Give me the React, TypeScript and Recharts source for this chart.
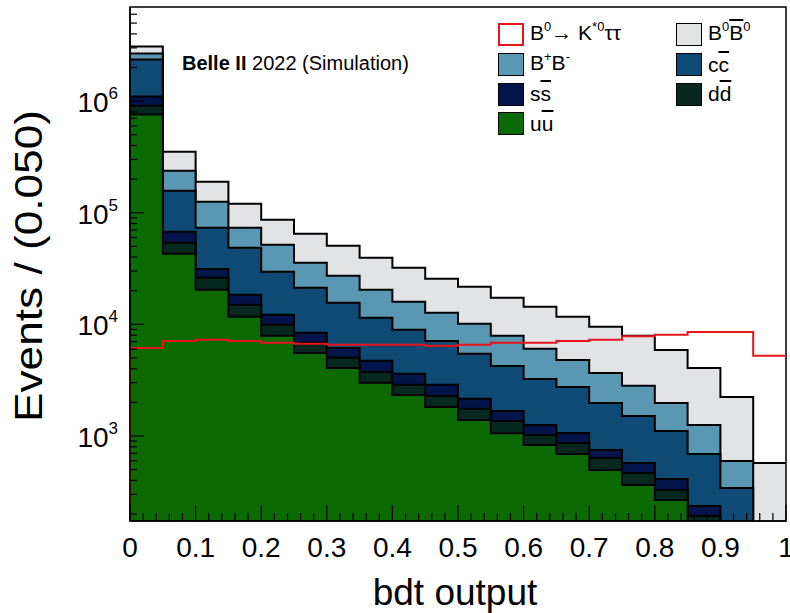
import React from 'react';
import { ComposedChart, Area, Line, XAxis, YAxis, ReferenceArea, ReferenceLine, Legend, Label } from 'recharts';

// lower bin edges of the bdt output histogram (bin width 0.05)
const binLow = [0, 0.05, 0.1, 0.15, 0.2, 0.25, 0.3, 0.35, 0.4, 0.45, 0.5, 0.55, 0.6, 0.65, 0.7, 0.75, 0.8, 0.85, 0.9, 0.95];
const binHigh = 1;

// events per bin for each sample
const uu = [757000, 42900, 20400, 11700, 7890, 5550, 4070, 2990, 2330, 1820, 1390, 1060, 830, 690, 495, 363, 267, 150, 70, 20];
const dd = [154000, 10900, 5700, 3300, 2010, 1280, 940, 760, 540, 460, 360, 300, 191, 175, 140, 103, 61, 42, 20, 5];
const ss = [187000, 13700, 5300, 3400, 2270, 1560, 1140, 960, 730, 590, 400, 310, 234, 199, 114, 107, 83, 44, 30, 10];
const cc = [1259000, 90000, 41900, 30200, 17400, 12870, 9440, 6730, 5330, 4240, 3290, 2570, 1990, 1688, 1228, 939, 698, 454, 222, 60];
const bpbm = [310000, 80600, 52100, 24900, 22100, 14360, 11640, 8950, 6980, 5570, 4660, 3650, 2785, 2048, 1696, 1298, 868, 565, 255, 40];
const b0b0 = [416000, 114400, 64200, 47000, 34900, 29200, 23370, 19100, 16200, 12910, 11600, 9400, 8320, 6880, 5827, 5080, 3928, 2815, 1641, 438];
const signal = [6150, 7110, 7260, 7110, 6830, 6690, 6550, 6550, 6550, 6420, 6550, 6830, 6830, 7110, 7260, 7810, 8050, 8560, 8560, 5220];

const xMajor = [0, 0.1, 0.2, 0.3, 0.4, 0.5, 0.6, 0.7, 0.8, 0.9, 1];
const xLabels = ['0', '0.1', '0.2', '0.3', '0.4', '0.5', '0.6', '0.7', '0.8', '0.9', '1'];
const yMin = 173;
const yMax = 6.97e6;
const decades = [100, 1000, 10000, 100000, 1000000];

const COLORS = {
  b0b0: '#e2e3e4',
  bpbm: '#5a97b3',
  cc: '#0f4a74',
  ss: '#03144a',
  dd: '#06281f',
  uu: '#0c6a04',
  sig: '#e8141c',
};
const FONT = '"Liberation Sans", Arial, Helvetica, sans-serif';

// stack the samples bottom-up: uu, dd, ss, cc, B+B-, B0B0
const stackOrder: Array<[string, number[]]> = [['uu', uu], ['dd', dd], ['ss', ss], ['cc', cc], ['bpbm', bpbm], ['b0b0', b0b0]];

function buildRows() {
  const rows = binLow.map((x, i) => {
    const row: any = { x, sig: signal[i] };
    let sum = 0;
    stackOrder.forEach(([key, vals]) => {
      sum += vals[i];
      row['s_' + key] = sum;
    });
    return row;
  });
  // closing edge so the last step reaches x = 1
  rows.push({ ...rows[rows.length - 1], x: binHigh });
  return rows;
}
const rows = buildRows();

const xTicks: number[] = [];
xMajor.forEach((v, i) => {
  xTicks.push(v);
  if (i < xMajor.length - 1) {
    for (let k = 1; k < 5; k++) xTicks.push(Number((v + k * 0.02).toFixed(2)));
  }
});

const yTicks: number[] = [];
decades.forEach((d) => {
  for (let m = 1; m < 10; m++) {
    const v = m * d;
    if (v >= yMin && v <= yMax) yTicks.push(v);
  }
});

const XTick = (props: any) => {
  const { x, y, payload } = props;
  const idx = xMajor.findIndex((m) => Math.abs(m - payload.value) < 1e-6);
  const major = idx >= 0;
  return (
    <g>
      <line x1={x} x2={x} y1={y} y2={y - (major ? 16 : 8)} stroke="#000" strokeWidth={1.2} />
      {major && (
        <text x={x} y={y + 36} textAnchor="middle" fontSize={28} fontFamily={FONT} fill="#000">
          {xLabels[idx]}
        </text>
      )}
    </g>
  );
};

const YTick = (props: any) => {
  const { x, y, payload } = props;
  const lg = Math.log10(payload.value);
  const exp = Math.round(lg);
  const major = Math.abs(lg - exp) < 1e-6;
  return (
    <g>
      <line x1={x} x2={x + (major ? 14 : 7)} y1={y} y2={y} stroke="#000" strokeWidth={1.2} />
      {major && (
        <text x={x - 12} y={y + 11} textAnchor="end" fontSize={28} fontFamily={FONT} fill="#000">
          10<tspan dy={-13} fontSize={17}>{exp}</tspan>
        </text>
      )}
    </g>
  );
};

const sup: React.CSSProperties = { fontSize: 13, position: 'relative', top: -9 };
const bar: React.CSSProperties = { textDecoration: 'overline' };

const legendItems = [
  { id: 'sig', fill: '#fff', border: COLORS.sig, label: <>B<span style={sup}>0</span>→ K<span style={sup}>*0</span>ττ</> },
  { id: 'b0b0', fill: COLORS.b0b0, border: '#000', label: <>B<span style={sup}>0</span><span style={bar}>B</span><span style={sup}>0</span></> },
  { id: 'bpbm', fill: COLORS.bpbm, border: '#000', label: <>B<span style={sup}>+</span>B<span style={sup}>-</span></> },
  { id: 'cc', fill: COLORS.cc, border: '#000', label: <>c<span style={bar}>c</span></> },
  { id: 'ss', fill: COLORS.ss, border: '#000', label: <>s<span style={bar}>s</span></> },
  { id: 'dd', fill: COLORS.dd, border: '#000', label: <>d<span style={bar}>d</span></> },
  { id: 'uu', fill: COLORS.uu, border: '#000', label: <>u<span style={bar}>u</span></> },
];

const LegendBox = () => (
  <div style={{ display: 'grid', gridTemplateColumns: '178px 110px', gridAutoRows: '29.7px', alignItems: 'center', fontFamily: FONT, fontSize: 21, color: '#000' }}>
    {legendItems.map((it) => (
      <div key={it.id} style={{ display: 'flex', alignItems: 'center', lineHeight: '22px', whiteSpace: 'nowrap' }}>
        <span style={{ display: 'inline-block', width: 26, height: 23, boxSizing: 'border-box', border: `${it.id === 'sig' ? 2 : 1.5}px solid ${it.border}`, background: it.fill, marginRight: 6 }} />
        <span>{it.label}</span>
      </div>
    ))}
  </div>
);

export default function App() {
  return (
    <div style={{ position: 'absolute', left: 0, top: 0, width: 790, height: 613, background: '#fff', fontFamily: FONT }}>
      <ComposedChart width={790} height={613} data={rows} margin={{ top: 7, right: 4, left: 0, bottom: 0 }}>
        <XAxis
          dataKey="x"
          type="number"
          domain={[0, 1]}
          ticks={xTicks}
          interval={0}
          tick={<XTick />}
          tickLine={false}
          tickSize={0}
          tickMargin={0}
          height={92}
          axisLine={{ stroke: '#000', strokeWidth: 1.5 }}
        >
          <Label
            content={() => (
              <text x={455} y={605} textAnchor="middle" fontSize={37} fontFamily={FONT} fill="#000">bdt output</text>
            )}
          />
        </XAxis>
        <YAxis
          type="number"
          scale="log"
          domain={[yMin, yMax]}
          allowDataOverflow
          ticks={yTicks}
          interval={0}
          tick={<YTick />}
          tickLine={false}
          tickSize={0}
          tickMargin={0}
          width={130}
          axisLine={{ stroke: '#000', strokeWidth: 1.5 }}
        >
          <Label
            content={() => (
              <text
                x={42}
                y={266}
                transform="rotate(-90, 42, 266)"
                textAnchor="middle"
                fontSize={39}
                textLength={312}
                lengthAdjust="spacingAndGlyphs"
                fontFamily={FONT}
                fill="#000"
              >
                Events / (0.050)
              </text>
            )}
          />
        </YAxis>
        {[...stackOrder].reverse().map(([key]) => (
          <Area
            key={key}
            type="stepAfter"
            dataKey={'s_' + key}
            stroke="#000"
            strokeWidth={2}
            fill={(COLORS as any)[key]}
            fillOpacity={1}
            dot={false}
            activeDot={false}
            isAnimationActive={false}
          />
        ))}
        <Line type="stepAfter" dataKey="sig" stroke={COLORS.sig} strokeWidth={2} dot={false} activeDot={false} isAnimationActive={false} />
        <ReferenceLine segment={[{ x: 0, y: yMin }, { x: 0, y: signal[0] }]} stroke={COLORS.sig} strokeWidth={2} />
        <ReferenceArea x1={0} x2={1} y1={yMin} y2={yMax} fill="none" stroke="#000" strokeWidth={1.5} />
        <Legend
          layout="vertical"
          align="center"
          verticalAlign="middle"
          content={() => <LegendBox />}
          wrapperStyle={{ top: 20, left: 498, width: 290 }}
        />
      </ComposedChart>
      <div style={{ position: 'absolute', left: 182, top: 53, fontSize: 20, lineHeight: '20px', whiteSpace: 'nowrap', color: '#000' }}>
        <b>Belle II</b> 2022 (Simulation)
      </div>
    </div>
  );
}
